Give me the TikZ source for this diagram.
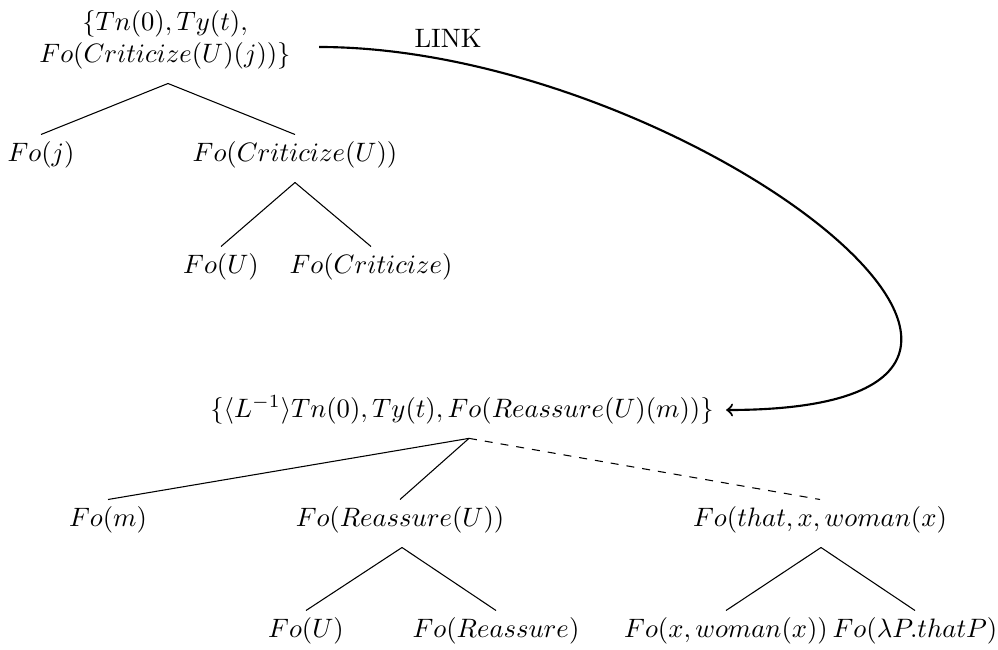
\documentclass[tikz,border=0pt]{standalone}
\usepackage{amsmath,amssymb}
\usetikzlibrary{calc}
\begin{document}
\begin{tikzpicture}[x=0.0132cm,y=-0.0132cm,
		lbl/.style={inner sep=2.5pt},
		link/.style={->,thick,shorten <=8pt,shorten >=2pt}]
		\useasboundingbox (0,0) rectangle (998,649);
		% upper tree
		\path
		(165,40) node[lbl,align=center] (r1) {$\{Tn(0),Ty(t),$\\$Fo(Criticize(U)(j))\}$}
		(41,155) node[lbl] (fj) {$Fo(j)$}
		(295,155) node[lbl] (fcu) {$Fo(Criticize(U))$}
		(221,267) node[lbl] (fuA) {$Fo(U)$}
		(371,267) node[lbl] (fc) {$Fo(Criticize)$};
		% lower tree
		\path
		(462,410) node[lbl] (r2) {$\{\langle L^{-1}\rangle Tn(0),Ty(t),Fo(Reassure(U)(m))\}$}
		(108,520) node[lbl] (fm) {$Fo(m)$}
		(400,520) node[lbl] (fru) {$Fo(Reassure(U))$}
		(820,520) node[lbl] (fw) {$Fo(that,x,woman(x)$}
		(306,631) node[lbl] (fuB) {$Fo(U)$}
		(496,631) node[lbl] (fr) {$Fo(Reassure)$}
		(726,631) node[lbl] (fxw) {$Fo(x,woman(x))$}
		(915,631) node[lbl] (fl) {$Fo(\lambda P.thatP)$};
		\foreach \p/\a/\c in {r1/3/fj,r1/3/fcu,fcu/0/fuA,fcu/0/fc,r2/7/fm,r2/7/fru,fru/2/fuB,fru/2/fr,fw/1/fxw,fw/1/fl}
		\draw ($(\p.south)+(\a,7)$) -- (\c.north);
		\draw[dashed] ($(r2.south)+(7,7)$) -- (fw.north);
		% LINK relation
		\draw[link] ($(r1.east)+(0,7)$) .. controls +(386,0) and +(443,0) .. (r2.east);
		\node (lk) at (448,38) {LINK};
	\end{tikzpicture}
\end{document}
